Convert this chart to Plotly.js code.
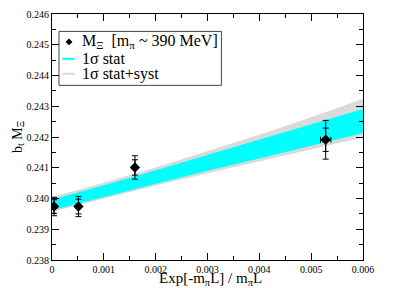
<!DOCTYPE html>
<html>
<head>
<meta charset="utf-8">
<script src="https://cdn.plot.ly/plotly-3.0.1.min.js"></script>
<style>html,body{margin:0;padding:0;background:#fff;}#chart{width:407px;height:288px;}</style>
</head>
<body>
<div id="chart"></div>
<script>
// Data points: M_Xi vs Exp[-m_pi L]/(m_pi L)
const ptX = [0.00004, 0.00051, 0.00160, 0.00528];
const ptY = [0.23974, 0.23974, 0.24101, 0.24191];
const errStat = [0.00022, 0.00024, 0.00025, 0.00038];
const errTot = [0.00030, 0.00033, 0.00038, 0.00063];
const errX = [0, 0, 0, 0.00010];

// Fit bands
const bandX = [0, 0.001, 0.002, 0.003, 0.004, 0.005, 0.006];
const statUpper = [0.23997, 0.24043, 0.24092, 0.24142, 0.24192, 0.24242, 0.24291];
const statLower = [0.23962, 0.24005, 0.24048, 0.24090, 0.24130, 0.24172, 0.24213];
const systUpper = [0.24005, 0.24051, 0.24101, 0.24153, 0.24207, 0.24264, 0.24324];
const systLower = [0.23957, 0.24000, 0.24042, 0.24082, 0.24120, 0.24159, 0.24198];

const xTicks = [0, 0.001, 0.002, 0.003, 0.004, 0.005, 0.006];
const xTickText = ["0", "0.001", "0.002", "0.003", "0.004", "0.005", "0.006"];
const yTicks = [0.238, 0.239, 0.240, 0.241, 0.242, 0.243, 0.244, 0.245, 0.246];
const yTickText = ["0.238", "0.239", "0.240", "0.241", "0.242", "0.243", "0.244", "0.245", "0.246"];

const legendLabels = ["M<sub>Ξ</sub>&nbsp; [m<sub>π</sub> ~ 390 MeV]", "1σ stat", "1σ stat+syst"];
const xTitle = "Exp[-m<sub>π</sub>L] / m<sub>π</sub>L";
const yTitle = "b<sub>t</sub> M<sub>Ξ</sub>";

const GRAY = "#dadada";
const CYAN = "#00ffff";
const FONT = "Liberation Serif";

const traces = [
  {x: bandX, y: systLower, mode: "lines", line: {width: 0, color: GRAY}, hoverinfo: "skip", showlegend: false},
  {x: bandX, y: systUpper, mode: "lines", line: {width: 0, color: GRAY}, fill: "tonexty", fillcolor: GRAY, hoverinfo: "skip", showlegend: false},
  {x: bandX, y: statLower, mode: "lines", line: {width: 0, color: CYAN}, hoverinfo: "skip", showlegend: false},
  {x: bandX, y: statUpper, mode: "lines", line: {width: 0, color: CYAN}, fill: "tonexty", fillcolor: CYAN, hoverinfo: "skip", showlegend: false},
  {x: ptX, y: ptY, mode: "markers", marker: {size: 0.1, color: "rgba(0,0,0,0)"},
   error_y: {type: "data", array: errTot, visible: true, color: "#000", thickness: 1, width: 3},
   showlegend: false},
  {x: ptX, y: ptY, mode: "markers", marker: {symbol: "diamond", size: 8, color: "#000"},
   error_y: {type: "data", array: errStat, visible: true, color: "#000", thickness: 1, width: 3},
   error_x: {type: "data", array: errX, visible: true, color: "#000", thickness: 1, width: 3},
   showlegend: false}
];

// legend geometry in paper coords
const L = {x0: 0.0225, x1: 0.5447, y0: 0.7098, y1: 0.9293};
const rowY = [0.8866, 0.8179, 0.7569];
const symX0 = 0.0334, symX1 = 0.0730, symXc = 0.0547, textX = 0.089;

const shapes = [
  {type: "rect", xref: "paper", yref: "paper", x0: L.x0, x1: L.x1, y0: L.y0, y1: L.y1,
   line: {color: "#444", width: 1}, fillcolor: "#fff", layer: "above"},
  {type: "line", xref: "paper", yref: "paper", x0: symX0, x1: symX1, y0: rowY[1], y1: rowY[1],
   line: {color: CYAN, width: 2}, layer: "above"},
  {type: "line", xref: "paper", yref: "paper", x0: symX0, x1: symX1, y0: rowY[2], y1: rowY[2],
   line: {color: GRAY, width: 2}, layer: "above"},
  {type: "path", xref: "paper", yref: "paper", layer: "above",
   path: "M " + symXc + "," + (rowY[0] + 0.014) + " L " + (symXc + 0.0113) + "," + rowY[0] +
         " L " + symXc + "," + (rowY[0] - 0.014) + " L " + (symXc - 0.0113) + "," + rowY[0] + " Z",
   fillcolor: "#000", line: {color: "#000", width: 0}}
];

const annotations = legendLabels.map((t, i) => ({
  xref: "paper", yref: "paper", x: textX, y: rowY[i], xanchor: "left", yanchor: "middle",
  text: t, showarrow: false, font: {family: FONT, size: 16, color: "#000"}
}));
// x-axis title placed just below the tick labels
annotations.push({
  xref: "paper", yref: "paper", x: 0.51, y: -0.077, xanchor: "center", yanchor: "middle",
  text: xTitle, showarrow: false, font: {family: FONT, size: 15, color: "#000"}
});

const layout = {
  width: 407, height: 288,
  margin: {l: 52, r: 44, t: 14, b: 28},
  paper_bgcolor: "#fff", plot_bgcolor: "#fff",
  font: {family: FONT, size: 10, color: "#000"},
  showlegend: false,
  xaxis: {
    range: [0, 0.006], tickvals: xTicks, ticktext: xTickText,
    ticks: "inside", ticklen: 7, tickcolor: "#000", tickwidth: 1,
    showline: true, linecolor: "#000", linewidth: 1, mirror: "ticks",
    showgrid: false, zeroline: false, automargin: false,
    minor: {dtick: 0.0005, ticks: "inside", ticklen: 4, tickcolor: "#000", showgrid: false},
    tickfont: {family: FONT, size: 10, color: "#000"}
  },
  yaxis: {
    range: [0.238, 0.246], tickvals: yTicks, ticktext: yTickText,
    ticks: "inside", ticklen: 7, tickcolor: "#000", tickwidth: 1,
    showline: true, linecolor: "#000", linewidth: 1, mirror: "ticks",
    showgrid: false, zeroline: false, automargin: false,
    minor: {dtick: 0.0005, ticks: "inside", ticklen: 4, tickcolor: "#000", showgrid: false},
    tickfont: {family: FONT, size: 10, color: "#000"},
    title: {text: yTitle, font: {family: FONT, size: 14, color: "#000"}, standoff: 0}
  },
  shapes: shapes,
  annotations: annotations
};

Plotly.newPlot("chart", traces, layout, {staticPlot: true, displayModeBar: false});
</script>
</body>
</html>
